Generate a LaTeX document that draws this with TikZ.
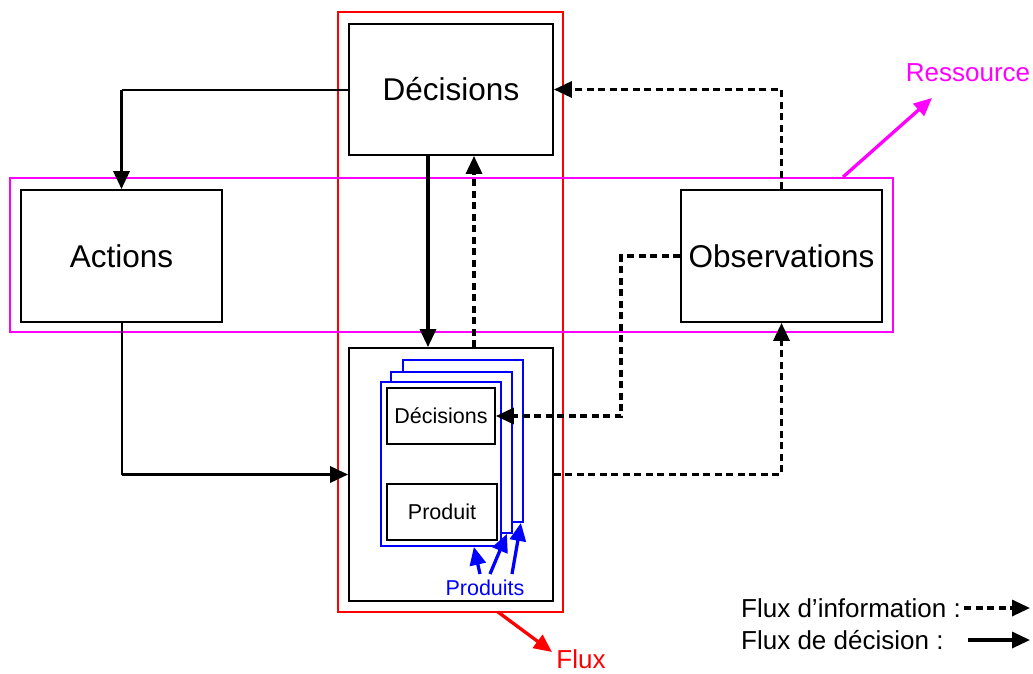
\documentclass[tikz,border=0pt]{standalone}
\usepackage{fontspec}
\setmainfont{Liberation Sans}
\usetikzlibrary{arrows.meta}
\definecolor{ressource}{RGB}{255,0,255}
\definecolor{produits}{RGB}{0,0,255}
\definecolor{flux}{RGB}{255,0,0}

\tikzset{
	boite/.style={draw, line width=1.8pt, inner sep=0pt, fill=white},
	page/.style={draw=produits, line width=1.8pt, fill=white},
	decision/.style={line width=3.3pt, -{Triangle[length=18pt,width=16pt]}},
	info/.style={line width=3.3pt, dash pattern=on 7pt off 4.5pt, -{Triangle[length=18pt,width=16pt]}},
	lien/.style={line width=2pt},
}

\begin{document}
\begin{tikzpicture}[x=1pt, y=-1pt]
	\useasboundingbox (0,0) rectangle (1033,673);
	\def\grand{\fontsize{31.5}{36}\selectfont}
	\def\petit{\fontsize{21.5}{26}\selectfont}
	\def\moyen{\fontsize{26}{30}\selectfont}

	% flux and ressource frames
	\node (flux) [draw=flux, line width=1.8pt, minimum width=225pt, minimum height=600pt] at (450.5,312) {};
	\node (res) [draw=ressource, line width=1.8pt, minimum width=883pt, minimum height=154pt] at (451.5,255) {};

	% main boxes
	\node (dec) [boite, minimum width=204pt, minimum height=131pt] at (451,89.5) {\grand D\'ecisions};
	\node (act) [boite, minimum width=201pt, minimum height=132pt] at (121.5,256) {\grand Actions};
	\node (obs) [boite, minimum width=201pt, minimum height=132pt] at (781.5,256) {\grand Observations};
	\node (proc) [boite, minimum width=204pt, minimum height=253pt] at (451,474.5) {};

	% stacked products
	\node (p3) [page, minimum width=120pt, minimum height=162pt] at (463,441) {};
	\node (p2) [page, minimum width=121pt, minimum height=161pt] at (451.5,452.5) {};
	\node (p1) [page, minimum width=120pt, minimum height=164pt] at (441,464) {};
	\node (idec) [boite, minimum width=108pt, minimum height=56pt] at (441,416) {\petit D\'ecisions};
	\node (prod) [boite, minimum width=110pt, minimum height=56pt] at (442,512) {\petit Produit};
	\node (lprod) [text=produits, inner sep=0pt] at (485,588) {\petit Produits};
	\coordinate (s1) at (480,574);
	\coordinate (s2) at (490,574);
	\coordinate (s3) at (512,574);
	\draw [produits, decision] (s1) -- ([xshift=-28pt]p1.south east);
	\draw [produits, decision] (s2) -- ([xshift=-6pt]p2.south east);
	\draw [produits, decision] (s3) -- ([xshift=-3pt]p3.south east);

	% decision flows
	\coordinate (c1) at (act.north |- dec.west);
	\draw [lien] (dec.west) -- (c1);
	\draw [decision] (c1) -- (act.north);
	\draw [decision] ([xshift=-23pt]dec.south) -- ([xshift=-23pt]proc.north);
	\coordinate (c2) at (act.south |- proc.west);
	\draw [lien] (act.south) -- (c2);
	\draw [decision] (c2) -- (proc.west);

	% information flows
	\draw [info] ([xshift=23pt]proc.north) -- ([xshift=23pt]dec.south);
	\draw [info] (obs.north) |- (dec.east);
	\draw [info] (obs.west) -- ++(-59,0) |- (idec.east);
	\draw [info] (proc.east) -| (obs.south);

	% labels
	\node (lres) [text=ressource, inner sep=0pt] at (968,73) {\moyen Ressource};
	\coordinate (r0) at (843,177);
	\draw [ressource, decision] (r0) -- (932,98);
	\node (lflux) [text=flux, inner sep=0pt] at (581,659) {\moyen Flux};
	\coordinate (f0) at (498,612);
	\draw [flux, decision] (f0) -- (552,652);

	% legend
	\node (linfo) [anchor=west, inner sep=0pt] at (741,608) {\moyen Flux d'information :};
	\node (ldec) [anchor=west, inner sep=0pt] at (741,640) {\moyen Flux de d\'ecision :};
	\coordinate (i0) at (964,608);
	\coordinate (i1) at (1030,608);
	\coordinate (d0) at (968,640);
	\coordinate (d1) at (1030,640);
	\draw [info] (i0) -- (i1);
	\draw [decision] (d0) -- (d1);
\end{tikzpicture}
\end{document}
